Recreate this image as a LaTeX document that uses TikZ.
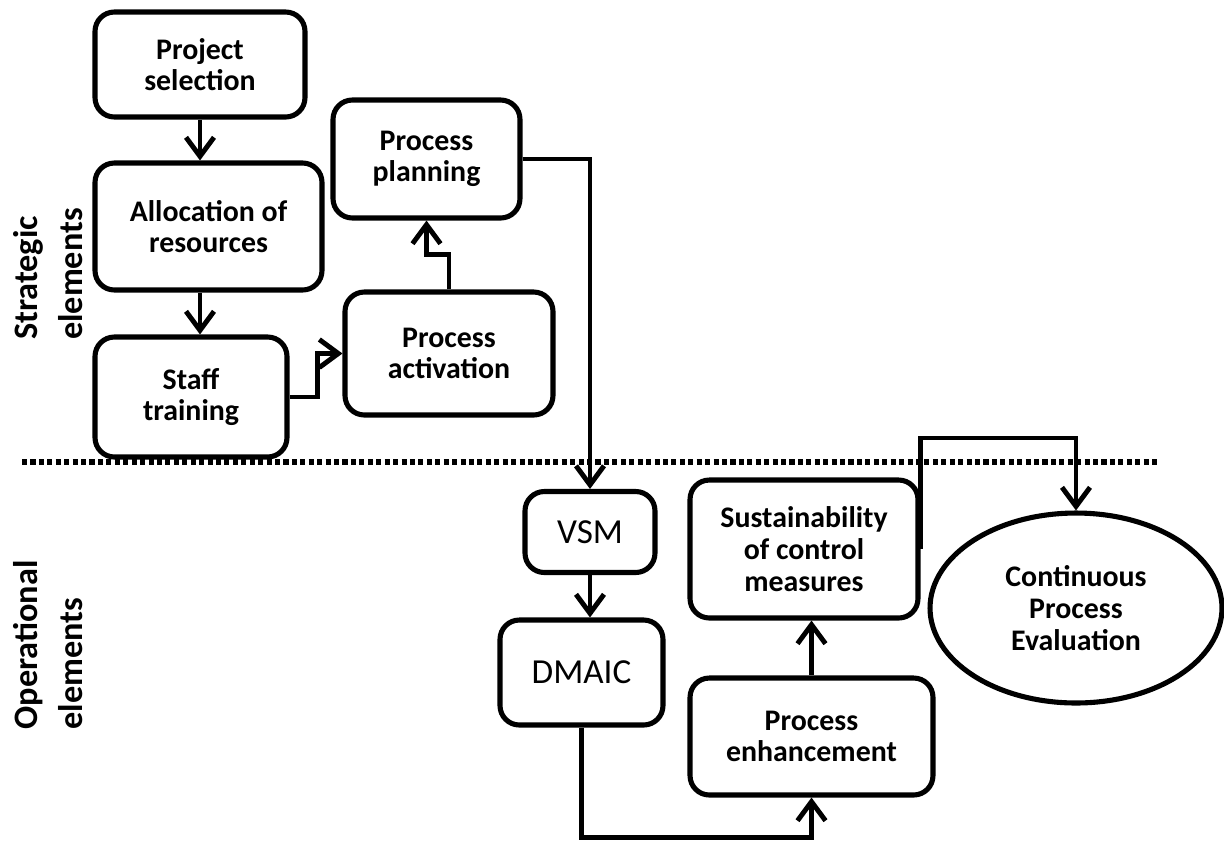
\documentclass[tikz,border=0pt]{standalone}
\usepackage{fontspec}
\setmainfont{Carlito}
\usetikzlibrary{arrows.meta,shapes.geometric}

\begin{document}
\begin{tikzpicture}[x=0.02cm, y=-0.02cm,
    box/.style={draw, line width=2.9pt, rounded corners=11pt, align=center, inner sep=2pt,
      font=\fontsize{17}{18}\selectfont\bfseries},
    bigbox/.style={box, font=\fontsize{20}{24}\selectfont},
    arr/.style={line width=2.8pt, -{Straight Barb[length=0.38cm, width=0.56cm, line width=2.8pt]}},
    side/.style={rotate=90, align=left, font=\fontsize{19.5}{25.5}\selectfont\bfseries}]
  \useasboundingbox (0,0) rectangle (1224,840);

  \node[box, minimum width=4.2cm, minimum height=2.1cm] (proj) at (200,64.5) {Project\\selection};
  \node[box, minimum width=4.54cm, minimum height=2.54cm] (alloc) at (208.5,226.5) {Allocation of\\resources};
  \node[box, minimum width=3.84cm, minimum height=2.4cm] (staff) at (191,397) {Staff\\training};
  \node[box, minimum width=3.74cm, minimum height=2.36cm] (plan) at (426.5,159) {Process\\planning};
  \node[box, minimum width=4.16cm, minimum height=2.46cm] (activ) at (449,353.5) {Process\\activation};
  \node[bigbox, minimum width=2.6cm, minimum height=1.62cm] (vsm) at (590,532) {VSM};
  \node[bigbox, minimum width=3.26cm, minimum height=2.1cm] (dmaic) at (581.5,672.5) {DMAIC};
  \node[box, minimum width=4.56cm, minimum height=2.76cm] (sust) at (804,549) {Sustainability\\of control\\measures};
  \node[box, minimum width=4.86cm, minimum height=2.34cm] (enh) at (811.5,736.5) {Process\\enhancement};
  \node[box, ellipse, rounded corners=0pt, minimum width=5.84cm, minimum height=3.8cm] (cpe) at (1076,608) {Continuous\\Process\\Evaluation};

  \node[side] (strat) at (48,274) {Strategic\\elements};
  \node[side] (oper) at (48,645) {Operational\\elements};

  \draw[line width=3pt, dash pattern=on 2.9pt off 1.9pt] (22,462) -- (1160,462);

  \draw[arr] (proj.south) -- (proj.south |- alloc.north);
  \draw[arr] (alloc.south -| proj.south) -- (proj.south |- staff.north);
  \draw[arr] (staff.east) -- ++(28,0) |- (activ.west);
  \draw[arr] (activ.north) -- ++(0,-35) -| (plan.south);
  \draw[arr] (plan.east) -| (vsm.north);
  \draw[arr] (vsm.south) -- (vsm.south |- dmaic.north);
  \draw[arr] (dmaic.south) -- ++(0,110) -| (enh.south);
  \draw[arr] (enh.north) -- (enh.north |- sust.south);
  \draw[arr] (sust.east) -- ++(0,-111) -| (cpe.north);
\end{tikzpicture}
\end{document}
